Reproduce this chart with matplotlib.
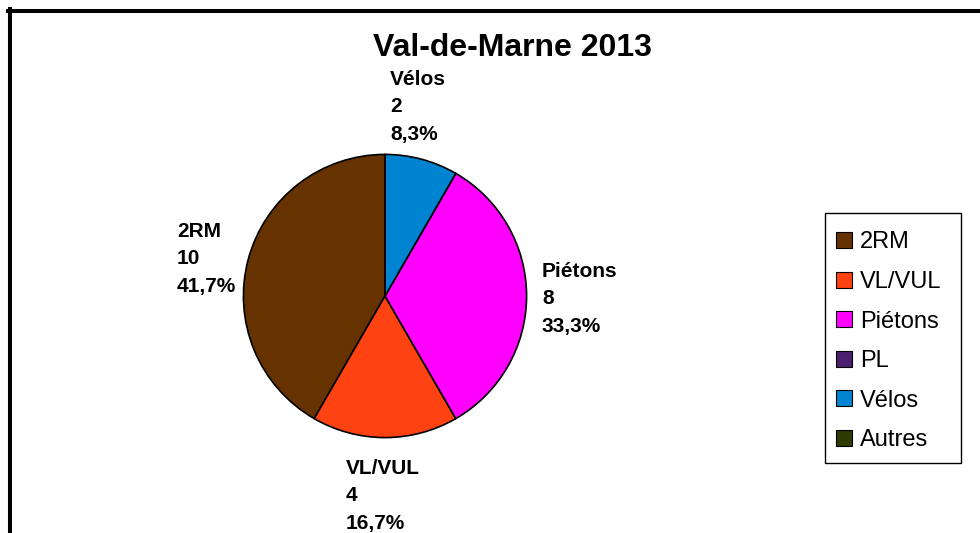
import matplotlib.pyplot as plt
from matplotlib.patches import Rectangle
from matplotlib.lines import Line2D

plt.rcParams['font.family'] = ['Liberation Sans', 'DejaVu Sans']

# data
categories = ["2RM", "VL/VUL", "Piétons", "PL", "Vélos", "Autres"]
values = [10, 4, 8, 0, 2, 0]
colors = ["#663300", "#FF4211", "#FF00FF", "#4B1F70", "#0084D1", "#2E3B00"]
title = "Val-de-Marne 2013"

W, H = 980, 533
fig = plt.figure(figsize=(W / 100, H / 100), dpi=100)


def fx(px):
    return px / W


def fy(py):
    return 1 - py / H


# pie axes placed in pixels: centre (385, 296), radius 143
cx, cy, r = 385, 296, 143
ax = fig.add_axes([(cx - r) / W, (H - cy - r) / H, 2 * r / W, 2 * r / H])
ax.pie(values, colors=colors, startangle=90, counterclock=True,
       wedgeprops=dict(edgecolor="black", linewidth=1.2))
ax.set_xlim(-1.01, 1.01)
ax.set_ylim(-1.01, 1.01)
ax.set_aspect("equal")
ax.axis("off")

fig.text(fx(512), fy(48), title, ha="center", va="center",
         fontsize=23, fontweight="bold")

# data labels (left x, top y of first line in pixels)
total = sum(values)
label_pos = {"Vélos": (390, 70), "2RM": (177, 222), "Piétons": (542, 262), "VL/VUL": (346, 459)}
for name, v in zip(categories, values):
    if name not in label_pos:
        continue
    pct = f"{v / total * 100:.1f}".replace(".", ",") + "%"
    x, y = label_pos[name]
    fig.text(fx(x), fy(y), f"{name}\n{v}\n{pct}", ha="left", va="top",
             fontsize=15, fontweight="bold", linespacing=1.56)

# legend, drawn by hand so the box matches the original
fig.add_artist(Rectangle((fx(825), fy(463)), fx(961) - fx(825), fy(213) - fy(463),
                         transform=fig.transFigure, facecolor="white",
                         edgecolor="black", linewidth=1.0))
for i, (name, c) in enumerate(zip(categories, colors)):
    yc = 240 + 39.6 * i
    fig.add_artist(Rectangle((fx(836), fy(yc + 8)), fx(852) - fx(836), fy(yc - 8) - fy(yc + 8),
                             transform=fig.transFigure, facecolor=c,
                             edgecolor="black", linewidth=0.8))
    fig.text(fx(860), fy(yc), name, ha="left", va="center_baseline", fontsize=17)

# outer frame (top and left edges visible)
fig.add_artist(Line2D([fx(8), 1], [fy(11), fy(11)], color="black", linewidth=2.9,
                      transform=fig.transFigure))
fig.add_artist(Line2D([fx(10), fx(10)], [0, fy(9)], color="black", linewidth=2.9,
                      transform=fig.transFigure))

fig.savefig("out.png", dpi=100)
